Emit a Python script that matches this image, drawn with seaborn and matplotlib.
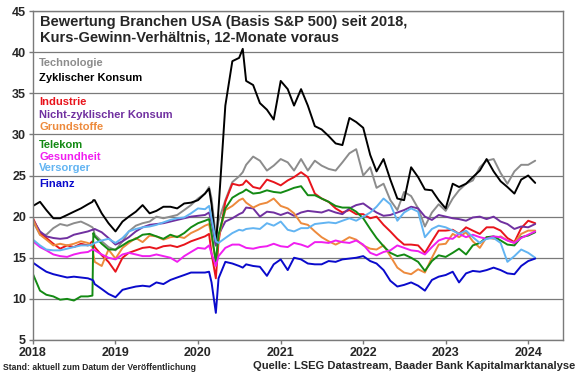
import matplotlib.pyplot as plt
import matplotlib.dates as mdates
import pandas as pd
import seaborn as sns

# Zeitachse: Monatsanfaenge plus ein paar Stichtage (Telekom-Sprung, Corona, Sommer 2020)
months = pd.date_range("2018-01-01", "2024-02-01", freq="MS")
extra_days = pd.to_datetime(["2018-09-21", "2018-09-25", "2020-02-19", "2020-03-20", "2020-07-17"])
dates = months.append(extra_days).sort_values()

sectors = ["Technologie", "Zyklischer Konsum", "Industrie", "Nicht-zyklischer Konsum",
           "Grundstoffe", "Telekom", "Gesundheit", "Versorger", "Finanz"]
colors = ["#8c8c8c", "#000000", "#e8141c", "#7030a0", "#ed8a3c",
          "#138a13", "#f01ef0", "#62b4f2", "#0a0acc"]

# KGV-Werte (2018 | 2019 | 2020 | 2021 | 2022 | 2023 | 2024)
technologie = [19.4, 17.8, 17.8, 18.6, 19.1, 18.9, 19.2, 19.4, 19.0, 18.7, 18.5, 17.8, 17.0, 16.3,
               15.9, 17.0, 18.2, 18.9, 19.2, 19.4, 20.0, 19.8, 20.0, 20.2, 20.8, 21.4,
               22.2, 22.8, 23.6, 22.2, 17.5, 19.5, 22.0, 24.2, 24.9, 25.4, 26.3, 27.3, 26.8, 25.6, 26.2,
               27.0, 26.6, 25.6, 27.0, 25.6, 26.8, 26.2, 25.8, 25.6, 26.6, 27.7, 28.2,
               25.0, 26.0, 23.5, 24.0, 22.0, 20.8, 23.0, 22.5, 21.0, 18.8, 20.5, 21.5,
               20.7, 22.2, 23.2, 24.0, 24.4, 26.0, 26.8, 27.0, 25.3, 24.0, 25.5, 26.3,
               26.3, 26.8]
zykl_konsum = [21.3, 21.8, 20.8, 19.8, 19.8, 20.2, 20.6, 21.0, 21.5, 21.8, 22.0, 22.0, 20.4, 19.2,
               18.2, 19.4, 20.0, 20.6, 21.4, 20.4, 20.7, 21.2, 21.2, 21.0, 21.6, 21.7,
               22.0, 22.8, 23.4, 21.5, 16.5, 21.0, 33.5, 38.9, 39.3, 40.4, 36.5, 36.0, 33.8, 33.0, 31.8,
               36.5, 35.5, 33.5, 35.5, 33.5, 31.0, 30.6, 29.8, 28.9, 28.7, 32.0, 31.5,
               30.8, 27.5, 25.5, 27.0, 24.5, 22.2, 22.0, 26.0, 24.8, 23.3, 23.2, 22.0,
               21.0, 24.0, 23.6, 24.0, 24.8, 25.6, 27.0, 25.5, 24.3, 23.6, 22.8, 24.5,
               25.0, 24.1]
industrie = [19.8, 18.0, 17.4, 16.7, 16.1, 16.5, 16.3, 16.7, 16.5, 17.0, 16.8, 16.3, 15.3, 14.5,
             13.3, 15.0, 15.6, 15.9, 16.2, 16.3, 16.1, 16.4, 16.5, 16.3, 16.6, 17.0,
             17.3, 17.6, 17.9, 15.5, 12.5, 17.0, 21.8, 24.0, 23.8, 23.9, 24.4, 23.6, 23.4, 24.5, 24.2,
             23.8, 24.4, 24.8, 25.4, 24.8, 22.8, 22.2, 21.8, 21.0, 20.5, 20.8, 20.3,
             20.3, 19.8, 20.0, 19.0, 18.2, 17.3, 16.6, 16.6, 16.5, 15.6, 17.0, 18.3,
             18.3, 18.4, 17.9, 18.7, 18.3, 17.9, 18.7, 18.7, 18.3, 17.4, 16.9, 18.6,
             19.5, 19.2]
nicht_zykl = [19.6, 18.2, 17.6, 17.4, 17.3, 17.4, 17.8, 18.0, 18.2, 18.4, 18.4, 18.5, 18.1, 17.4,
              16.6, 17.0, 17.5, 18.2, 18.7, 19.0, 19.1, 19.2, 19.4, 19.6, 19.8, 20.0,
              20.1, 20.2, 20.5, 19.3, 16.5, 17.8, 19.4, 19.8, 20.3, 20.5, 21.1, 21.0, 20.0, 20.6, 20.5,
              20.2, 20.5, 20.1, 20.5, 20.7, 20.6, 20.5, 20.8, 20.5, 20.3, 21.0, 21.4,
              21.6, 21.0, 20.5, 20.1, 20.2, 20.5, 20.8, 21.2, 21.0, 20.0, 19.6, 20.2,
              20.0, 19.8, 19.7, 19.5, 19.9, 20.0, 19.7, 20.0, 19.4, 19.1, 18.5, 18.8,
              18.7, 19.1]
grundstoffe = [19.6, 17.8, 17.2, 16.5, 16.7, 16.5, 16.7, 17.0, 16.8, 16.3, 15.5, 14.5, 14.0, 16.0,
               14.9, 16.2, 16.8, 17.4, 16.9, 17.7, 17.6, 17.2, 17.5, 17.6, 17.4, 18.0,
               18.4, 18.9, 19.1, 17.5, 14.5, 17.5, 20.8, 21.3, 22.0, 22.2, 21.7, 21.1, 21.5, 21.7, 22.2,
               21.3, 21.0, 20.4, 19.2, 19.0, 18.2, 17.5, 17.0, 16.6, 17.0, 17.5, 17.2,
               16.5, 16.1, 16.0, 16.5, 15.2, 13.8, 13.2, 13.0, 13.6, 13.2, 15.0, 16.6,
               16.7, 17.9, 17.5, 18.1, 17.0, 16.2, 17.5, 17.3, 17.6, 17.1, 16.8, 17.9,
               18.3, 18.3]
telekom = [13.0, 11.0, 10.5, 10.3, 9.9, 10.0, 9.8, 10.3, 10.3, 10.4, 18.0, 17.6, 16.7, 16.0,
           16.0, 16.5, 17.0, 17.3, 17.8, 17.9, 17.6, 17.3, 17.8, 17.5, 18.0, 18.7,
           19.2, 19.5, 19.7, 18.0, 14.5, 17.8, 21.0, 22.3, 22.8, 23.0, 23.3, 22.8, 22.9, 23.2, 23.0,
           22.9, 23.2, 23.5, 23.7, 22.6, 22.6, 22.2, 21.8, 21.3, 21.1, 21.1, 20.6,
           19.8, 18.5, 17.4, 16.4, 15.6, 15.2, 15.4, 15.0, 14.5, 13.4, 14.6, 15.3,
           15.1, 15.6, 16.1, 15.4, 16.5, 16.8, 17.5, 17.6, 17.1, 16.6, 16.5, 17.5,
           17.7, 18.1]
gesundheit = [17.0, 16.3, 15.9, 15.4, 15.2, 15.1, 15.4, 15.6, 15.7, 16.0, 16.0, 15.9, 15.4, 15.0,
              14.8, 15.4, 15.6, 15.4, 15.2, 15.2, 15.4, 15.2, 15.0, 14.5, 15.2, 15.7,
              16.2, 16.1, 16.5, 15.5, 14.0, 15.2, 16.2, 16.6, 16.6, 16.4, 16.2, 16.1, 16.3, 16.4, 16.7,
              16.4, 16.3, 16.8, 16.6, 16.3, 16.9, 16.9, 16.8, 17.1, 16.9, 16.8, 17.1,
              16.6, 15.6, 15.3, 15.7, 15.9, 16.5, 16.2, 15.9, 15.8, 15.4, 16.3, 17.1,
              17.4, 17.3, 17.9, 17.5, 17.8, 17.5, 17.3, 17.6, 17.5, 17.1, 16.8, 17.4,
              17.8, 18.2]
versorger = [17.2, 16.5, 16.0, 15.9, 15.9, 16.1, 16.3, 16.5, 16.5, 16.6, 16.7, 16.8, 17.1, 17.3,
             16.8, 17.4, 18.2, 18.5, 18.7, 18.8, 19.0, 19.3, 19.6, 19.8, 19.9, 20.4,
             21.0, 20.9, 21.3, 19.8, 17.0, 16.8, 17.4, 18.0, 18.4, 18.3, 18.5, 18.6, 18.5, 19.2, 18.9,
             19.4, 18.4, 18.2, 18.6, 18.6, 19.1, 19.2, 19.3, 19.2, 19.5, 19.8, 19.5,
             20.0, 20.5, 21.2, 22.2, 21.5, 19.5, 20.5, 21.0, 20.6, 17.5, 18.5, 18.9,
             18.7, 18.3, 17.9, 18.3, 17.5, 16.8, 17.3, 17.4, 16.8, 14.5, 15.2, 16.0,
             15.6, 15.0]
finanz = [14.4, 13.8, 13.3, 13.0, 12.8, 12.6, 12.7, 12.6, 12.5, 12.3, 12.2, 11.8, 11.2, 10.6,
          10.2, 11.1, 11.3, 11.5, 11.6, 11.5, 12.0, 11.8, 12.3, 12.6, 12.9, 13.2,
          13.2, 13.2, 13.3, 12.0, 8.3, 12.5, 14.5, 14.3, 14.0, 13.8, 14.2, 14.0, 13.9, 12.8, 14.2,
          14.8, 13.5, 15.0, 14.8, 14.3, 14.2, 14.2, 14.6, 14.5, 14.8, 14.9, 15.0,
          15.2, 14.6, 14.3, 13.5, 12.2, 11.5, 11.7, 12.0, 11.6, 11.0, 12.3, 12.7,
          12.9, 13.3, 12.0, 13.1, 13.4, 13.3, 13.5, 13.8, 13.5, 13.1, 13.0, 14.0,
          14.6, 14.9]

values = [technologie, zykl_konsum, industrie, nicht_zykl, grundstoffe,
          telekom, gesundheit, versorger, finanz]

df = pd.concat([pd.DataFrame({"Datum": dates, "KGV": v, "Branche": s})
                for s, v in zip(sectors, values)], ignore_index=True)

sns.set_theme(style="white")
plt.rcParams["font.family"] = ["Liberation Sans", "DejaVu Sans"]

fig = plt.figure(figsize=(5.8, 3.75), dpi=100)
ax = fig.add_axes([33 / 580, 35 / 375, 530 / 580, 329 / 375])

sns.lineplot(data=df, x="Datum", y="KGV", hue="Branche", hue_order=sectors,
             palette=dict(zip(sectors, colors)), linewidth=1.4, legend=False, ax=ax)

ax.set_ylim(5, 45)
ax.set_yticks(range(5, 50, 5))
ax.set_xlim(pd.Timestamp("2018-01-01"), pd.Timestamp("2024-06-03"))
ax.xaxis.set_major_locator(mdates.YearLocator())
ax.xaxis.set_major_formatter(mdates.DateFormatter("%Y"))
ax.set_xlabel("")
ax.set_ylabel("")
ax.grid(axis="y", color="#7a7a7a", linewidth=0.9)
ax.set_axisbelow(True)
for sp in ax.spines.values():
    sp.set_color("#7a7a7a")
    sp.set_linewidth(1)
ax.tick_params(axis="both", labelsize=9, length=3, width=1, color="#7a7a7a",
               direction="out", bottom=True, left=True, pad=2)
for lab in ax.get_xticklabels() + ax.get_yticklabels():
    lab.set_fontweight("bold")

fig.text(40 / 580, 1 - 15 / 375,
         "Bewertung Branchen USA (Basis S&P 500) seit 2018,\nKurs-Gewinn-Verhältnis, 12-Monate voraus",
         va="top", ha="left", fontsize=10.5, fontweight="bold", linespacing=1.1)

label_y = [63, 78, 102, 115, 127, 145, 157, 168, 184]
for s, c, y in zip(sectors, colors, label_y):
    fig.text(39 / 580, 1 - y / 375, s, color=c, fontsize=8, fontweight="bold", va="center")

fig.text(3 / 580, 1 - 368 / 375, "Stand: aktuell zum Datum der Veröffentlichung",
         fontsize=6.2, fontweight="bold", va="center", ha="left")
fig.text(575 / 580, 1 - 366 / 375, "Quelle: LSEG Datastream, Baader Bank Kapitalmarktanalyse",
         fontsize=8, fontweight="bold", va="center", ha="right")

fig.savefig("out.png", dpi=100)
